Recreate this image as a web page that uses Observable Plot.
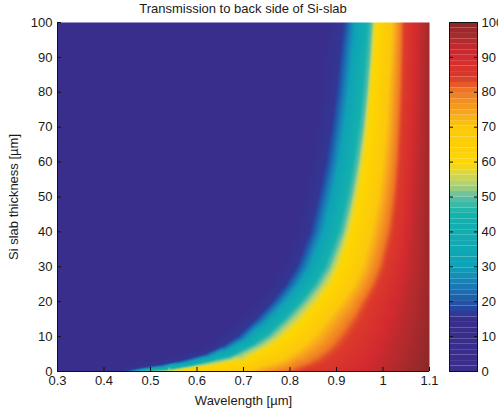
<!DOCTYPE html>
<html><head><meta charset="utf-8">
<script src="https://cdn.jsdelivr.net/npm/d3@7"></script>
<script src="https://cdn.jsdelivr.net/npm/@observablehq/plot@0.6"></script>
<style>
body{margin:0;background:#fff;font-family:"Liberation Sans",Arial,sans-serif;}
#wrap{position:relative;width:498px;height:415px;overflow:hidden;background:#fff;}
#main{position:absolute;left:0;top:0;}
#cbar{position:absolute;left:449px;top:0;}
#title{position:absolute;top:1px;left:57px;width:372px;text-align:center;font-size:13px;line-height:16px;color:#1a1a1a;}
</style></head><body>
<div id="wrap"><div id="main"></div><div id="cbar"></div><div id="title">Transmission to back side of Si-slab</div></div>
<script>
// Slab thickness rows [µm]
const thickness = [0, 1, 2, 3, 5, 7.5, 10, 15, 20, 25, 30, 40, 50, 60, 70, 80, 90, 100];
// Wavelength [µm] where transmission reaches each level, per thickness row
const wl16 = [0.44, 0.475, 0.525, 0.56, 0.615, 0.655, 0.685, 0.725, 0.76, 0.79, 0.813, 0.842, 0.86, 0.876, 0.888, 0.898, 0.906, 0.914];
const wl50 = [0.49, 0.54, 0.605, 0.64, 0.69, 0.728, 0.757, 0.797, 0.832, 0.862, 0.885, 0.914, 0.932, 0.946, 0.957, 0.965, 0.971, 0.976];
const wl58 = [0.54, 0.585, 0.64, 0.675, 0.72, 0.756, 0.782, 0.822, 0.856, 0.883, 0.902, 0.927, 0.943, 0.956, 0.965, 0.972, 0.978, 0.983];
const wl72 = [0.72, 0.74, 0.77, 0.79, 0.815, 0.84, 0.86, 0.89, 0.92, 0.945, 0.962, 0.982, 0.996, 1.005, 1.012, 1.016, 1.02, 1.023];
const wl83 = [0.81, 0.83, 0.85, 0.865, 0.885, 0.905, 0.92, 0.945, 0.965, 0.985, 1.0, 1.018, 1.028, 1.034, 1.038, 1.041, 1.043, 1.044];
const wl93 = [0.99, 0.995, 1.0, 1.005, 1.013, 1.02, 1.027, 1.038, 1.047, 1.054, 1.06, 1.066, 1.07, 1.074, 1.077, 1.079, 1.081, 1.083];
// Transmission [%] at the left (0.3 µm) and right (1.1 µm) edges
const tLeft = [0, 0, 0, 0, 0, 0, 0, 0, 0, 0, 0, 0, 0, 0, 0, 0, 0, 0];
const tRight = [100, 100, 100, 99.5, 99.5, 99, 99, 98.5, 98.5, 98, 98, 98, 97.5, 97.5, 97.5, 97.5, 97.5, 97.5];
const levelT = [16, 50, 58, 72, 83, 93];
const levelWl = [wl16, wl50, wl58, wl72, wl83, wl93];

const xTicks = [0.3, 0.4, 0.5, 0.6, 0.7, 0.8, 0.9, 1, 1.1];
const yTicks = [0, 10, 20, 30, 40, 50, 60, 70, 80, 90, 100];
const cbTicks = [0, 10, 20, 30, 40, 50, 60, 70, 80, 90, 100];

// colormap stops
const cmapStops = [0, 15, 17, 20, 25, 30, 45, 50, 53, 57, 60, 70, 74, 80, 84, 90, 95, 100];
const cmapColors = ["#3a2e8c", "#3a2e8c", "#2c3e9a", "#1d58a8", "#1a7fb6", "#0ea2b6", "#14b2ad", "#5fbfa2", "#a8d07a", "#e0d83c", "#fed600", "#fcc80c", "#f8a71e", "#ef7a25", "#dc3a2b", "#d42a2f", "#b22a2d", "#8a2828"];

const points = [];
thickness.forEach((d, i) => {
  points.push({w: 0.3, d, t: tLeft[i]});
  levelT.forEach((t, k) => points.push({w: levelWl[k][i], d, t}));
  points.push({w: 1.1, d, t: tRight[i]});
});

const color = {type: "linear", domain: cmapStops, range: cmapColors};
const font = {fontFamily: "'Liberation Sans', Arial, sans-serif", fontSize: "13px", color: "#1a1a1a", background: "transparent", overflow: "visible"};

const main = Plot.plot({
  width: 440, height: 415,
  marginLeft: 57, marginRight: 11, marginTop: 22, marginBottom: 44,
  style: font,
  x: {domain: [0.3, 1.1]},
  y: {domain: [0, 100]},
  color,
  marks: [
    Plot.raster(points, {x: "w", y: "d", fill: "t", x1: 0.3, x2: 1.1, y1: 0, y2: 100, interpolate: "barycentric", pixelSize: 1}),
    Plot.axisX(xTicks, {tickSize: 0, tickPadding: 4, tickFormat: d => String(d), label: "Wavelength [µm]", labelAnchor: "center", labelArrow: "none", labelOffset: 33}),
    Plot.axisX(xTicks, {tickSize: -4, tickFormat: () => "", label: null, stroke: "#111"}),
    Plot.axisY(yTicks, {tickSize: 0, tickPadding: 5, label: "Si slab thickness [µm]", labelAnchor: "center", labelArrow: "none", labelOffset: 49}),
    Plot.axisY(yTicks, {tickSize: -4, tickFormat: () => "", label: null, stroke: "#111"}),
    Plot.ruleY([0], {stroke: "#111"}),
    Plot.ruleX([0.3], {stroke: "#111"})
  ]
});
document.getElementById("main").append(main);

const cbLevels = d3.range(64).map(i => i * 100 / 64);
const cbar = Plot.plot({
  width: 49, height: 415,
  marginLeft: 0, marginRight: 21, marginTop: 22, marginBottom: 44,
  style: font,
  x: {domain: [0, 1], axis: null},
  y: {domain: [0, 100]},
  color,
  marks: [
    Plot.rect(cbLevels, {x1: 0, x2: 1, y1: d => d, y2: d => d + 100 / 64, fill: d => d + 50 / 64}),
    Plot.frame({stroke: "#111"}),
    Plot.axisY(cbTicks, {anchor: "right", tickSize: 0, tickPadding: 4, label: null}),
    Plot.axisY(cbTicks, {anchor: "right", tickSize: -4, tickFormat: () => "", label: null, stroke: "#111"}),
    Plot.axisY(cbTicks, {anchor: "left", tickSize: -4, tickFormat: () => "", label: null, stroke: "#111"})
  ]
});
document.getElementById("cbar").append(cbar);
</script>
</body></html>
